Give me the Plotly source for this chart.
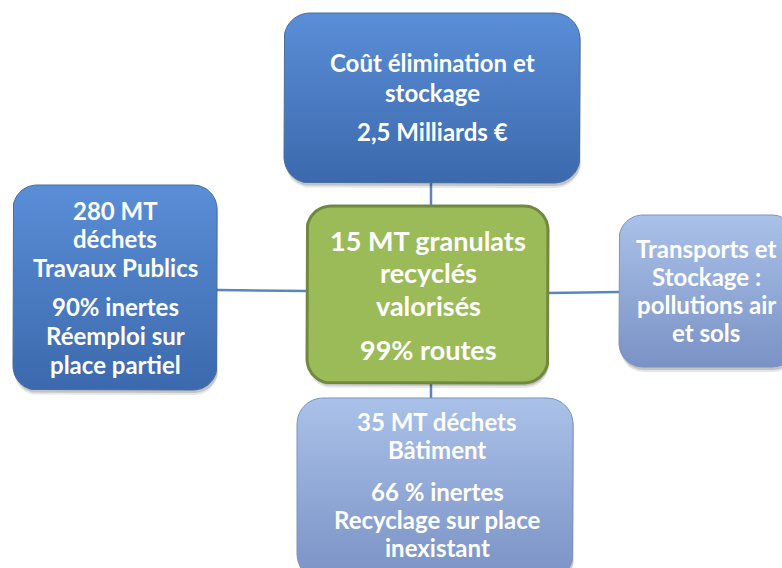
import numpy as np
import plotly.graph_objects as go

# Texte des cinq blocs (une ligne = une entrée, "" = saut de paragraphe)
top_lines = ["Coût élimination et", "stockage", "", "2,5 Milliards €"]
left_lines = ["280 MT", "déchets", "Travaux Publics", "", "90% inertes", "Réemploi sur", "place partiel"]
center_lines = ["15 MT granulats", "recyclés", "valorisés", "", "99% routes"]
right_lines = ["Transports et", "Stockage :", "pollutions air", "et sols"]
bottom_lines = ["35 MT déchets", "Bâtiment", "", "66 % inertes", "Recyclage sur place", "inexistant"]

W, H = 782, 568
DARK = ("#5a8ed7", "#3c69ad", "#42709f")
LIGHT = ("#aac1e9", "#7a92c5", "#7d93bd")
GREEN = ("#9bbb59", "#9bbb59", "#71893f")

# boîte: x0, y0, x1, y1, rayon, couleurs, lignes, centre texte, taille, interligne, première ligne
boxes = [
    dict(box=(284, 13, 580, 183), r=26, col=DARK, lines=top_lines, cx=432, y0=62, fs=24, lh=30, gap=9),
    dict(box=(13, 185, 217, 390), r=24, col=DARK, lines=left_lines, cx=115, y0=210, fs=24, lh=28.8, gap=10),
    dict(box=(307, 206, 548, 383), r=24, col=GREEN, lines=center_lines, cx=428, y0=240, fs=27, lh=32.5, gap=12),
    dict(box=(619, 215, 796, 367), r=24, col=LIGHT, lines=right_lines, cx=706, y0=248, fs=24, lh=28, gap=0),
    dict(box=(297, 398, 573, 580), r=26, col=LIGHT, lines=bottom_lines, cx=437, y0=421, fs=24, lh=28, gap=14),
]


def rounded(x0, y0, x1, y1, r, n=16):
    xs, ys = [], []
    for cx, cy, a0 in [(x1 - r, y0 + r, -90), (x1 - r, y1 - r, 0), (x0 + r, y1 - r, 90), (x0 + r, y0 + r, 180)]:
        t = np.radians(np.linspace(a0, a0 + 90, n))
        xs += list(cx + r * np.cos(t))
        ys += list(cy + r * np.sin(t))
    return xs + [xs[0]], ys + [ys[0]]


fig = go.Figure()

# connecteurs
line_col = "#5a86c0"
for xs, ys in [([217, 307], [290, 291]), ([548, 619], [293, 292]),
               ([431, 431], [183, 206]), ([431, 431], [383, 398])]:
    fig.add_trace(go.Scatter(x=xs, y=ys, mode="lines", line=dict(color=line_col, width=2.5),
                             hoverinfo="skip", showlegend=False))

annotations = []
for b in boxes:
    x0, y0, x1, y1 = b["box"]
    top, bot, edge = b["col"]
    # ombre
    for off, a in [(5, 0.10), (3, 0.15)]:
        sx, sy = rounded(x0 + 1, y0 + off, x1 + 1, y1 + off, b["r"])
        fig.add_trace(go.Scatter(x=sx, y=sy, mode="lines", fill="toself", line=dict(width=0),
                                 fillcolor=f"rgba(0,0,0,{a})", hoverinfo="skip", showlegend=False))
    bx, by = rounded(x0, y0, x1, y1, b["r"])
    fig.add_trace(go.Scatter(
        x=bx, y=by, mode="lines", fill="toself",
        line=dict(color=edge, width=3 if top == GREEN[0] else 1),
        fillgradient=dict(type="vertical", colorscale=[[0, top], [1, bot]], start=y0, stop=y1),
        hoverinfo="skip", showlegend=False))
    y = b["y0"]
    for txt in b["lines"]:
        if txt == "":
            y += b["gap"]
            continue
        annotations.append(dict(x=b["cx"], y=y, text=f"<b>{txt}</b>", showarrow=False,
                                xanchor="center", yanchor="middle",
                                font=dict(family="Lato", size=b["fs"], color="white")))
        y += b["lh"]

fig.update_layout(
    width=W, height=H,
    margin=dict(l=0, r=0, t=0, b=0),
    paper_bgcolor="white", plot_bgcolor="white",
    xaxis=dict(range=[0, W], visible=False, fixedrange=True),
    yaxis=dict(range=[H, 0], visible=False, fixedrange=True),
    annotations=annotations,
    showlegend=False,
)

fig.write_html("out.html", config={"displayModeBar": False},
               post_script="document.body.style.margin='0';")
